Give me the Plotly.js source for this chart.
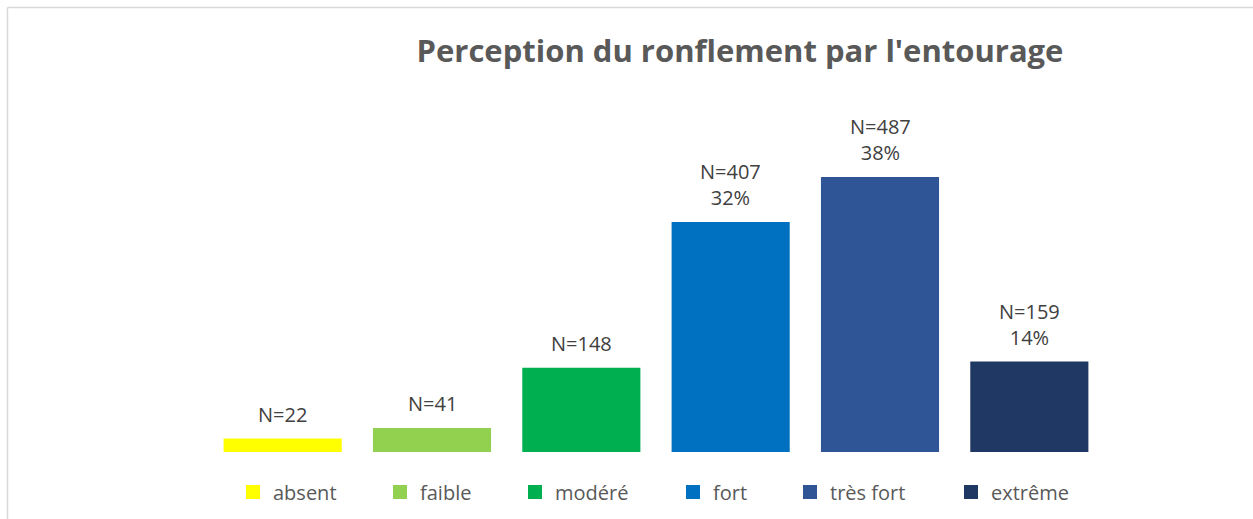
<!DOCTYPE html>
<html><head><meta charset="utf-8">
<script src="https://cdn.plot.ly/plotly-3.0.1.min.js"></script>
<style>html,body{margin:0;padding:0;background:#fff}#chart{width:1253px;height:519px}</style>
</head><body><div id="chart"></div>
<script>
// ---- data ----
const categories = ['absent', 'faible', 'modéré', 'fort', 'très fort', 'extrême'];
const counts = [22, 41, 148, 407, 487, 159];
const percents = [null, null, null, 32, 38, 14];
const chartTitle = "Perception du ronflement par l'entourage";

// ---- styling / layout ----
const colors = ['#FFFF00', '#92D050', '#00B050', '#0070C0', '#2F5597', '#203864'];
const W = 1253, H = 519;
const M = {l: 208, r: 149, t: 100, b: 67};
const plotW = W - M.l - M.r, plotH = H - M.t - M.b;
const legendMarkerLeft = [251, 398, 533, 691, 808, 969];
const FONT = '"Open Sans", "Noto Sans", sans-serif';

const px2x = p => (p - M.l) / plotW;
const px2y = p => (H - M.b - p) / plotH;

const traces = categories.map((c, i) => ({
  type: 'bar',
  name: c,
  x: [c],
  y: [counts[i]],
  width: 116 / 149.2,
  marker: {color: colors[i], line: {width: 2, color: colors[i]}},
  legend: i === 0 ? 'legend' : 'legend' + (i + 1),
  hoverinfo: 'x+y'
}));

const annotations = categories.map((c, i) => ({
  x: c, y: counts[i], xref: 'x', yref: 'y',
  text: 'N=' + counts[i] + (percents[i] != null ? '<br>' + percents[i] + '%' : ''),
  showarrow: false, yanchor: 'bottom', yshift: 10,
  font: {family: FONT, size: 20, color: '#404040'}
}));

const layout = {
  width: W, height: H,
  margin: M,
  paper_bgcolor: '#fff', plot_bgcolor: '#fff',
  barmode: 'overlay',
  title: {
    text: chartTitle, xref: 'container', yref: 'container',
    x: 740 / W, xanchor: 'center', y: 1 - 51 / H, yanchor: 'middle',
    font: {family: FONT, size: 31, weight: 700, color: '#595959'}
  },
  xaxis: {type: 'category', categoryorder: 'array', categoryarray: categories,
          range: [-0.5, 5.5], showticklabels: false, showgrid: false, zeroline: false, showline: false, fixedrange: true},
  yaxis: {range: [0, plotH / 0.5626], showticklabels: false, showgrid: false, zeroline: false, showline: false, fixedrange: true},
  annotations: annotations,
  shapes: [
    {type: 'line', xref: 'paper', yref: 'paper', x0: px2x(7.5), x1: px2x(W), y0: px2y(7.5), y1: px2y(7.5), line: {color: '#D9D9D9', width: 1.5}},
    {type: 'line', xref: 'paper', yref: 'paper', x0: px2x(7.5), x1: px2x(7.5), y0: px2y(7.5), y1: px2y(H), line: {color: '#D9D9D9', width: 1.5}}
  ],
  showlegend: true
};

categories.forEach((c, i) => {
  const key = i === 0 ? 'legend' : 'legend' + (i + 1);
  layout[key] = {
    orientation: 'h', xref: 'container', yref: 'container',
    x: (legendMarkerLeft[i] - 18) / W, xanchor: 'left',
    y: 1 - 492 / H, yanchor: 'middle',
    font: {family: FONT, size: 20, color: '#595959'},
    bgcolor: 'rgba(0,0,0,0)', borderwidth: 0
  };
});

Plotly.newPlot('chart', traces, layout, {displayModeBar: false, responsive: false});
</script>
</body></html>
